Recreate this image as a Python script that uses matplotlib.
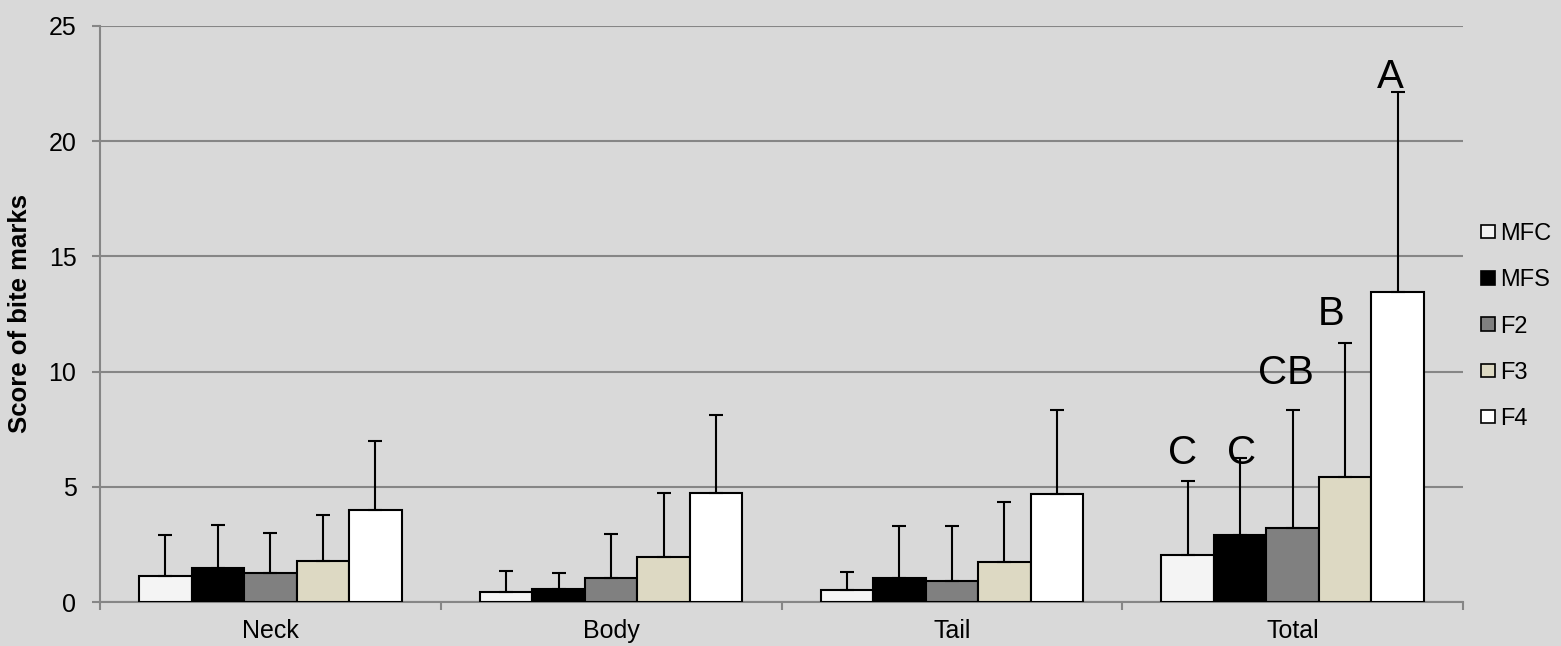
import numpy as np
import matplotlib.pyplot as plt
from matplotlib.patches import Patch

plt.rcParams['font.family'] = ['Liberation Sans', 'DejaVu Sans']

# data
categories = ['Neck', 'Body', 'Tail', 'Total']
groups = ['MFC', 'MFS', 'F2', 'F3', 'F4']
means = {
    'MFC': [1.12, 0.45, 0.50, 2.06],
    'MFS': [1.49, 0.55, 1.05, 2.92],
    'F2':  [1.26, 1.05, 0.92, 3.23],
    'F3':  [1.80, 1.97, 1.72, 5.41],
    'F4':  [4.01, 4.72, 4.68, 13.45],
}
upper = {  # top of error bar
    'MFC': [2.90, 1.35, 1.30, 5.25],
    'MFS': [3.33, 1.25, 3.28, 6.25],
    'F2':  [3.00, 2.93, 3.28, 8.35],
    'F3':  [3.78, 4.72, 4.33, 11.24],
    'F4':  [6.97, 8.12, 8.32, 22.12],
}
letters = ['C', 'C', 'CB', 'B', 'A']
letter_y = [6.0, 6.0, 9.46, 12.03, 22.3]

colors = ['#f4f4f4', '#000000', '#808080', '#ddd9c3', '#ffffff']
bg = '#d9d9d9'
grid_c = '#868686'

fig = plt.figure(figsize=(15.61, 6.46), dpi=100, facecolor=bg)
ax = fig.add_axes([0.0641, 0.0681, 0.8731, 0.8917], facecolor=bg)

x = np.arange(len(categories)) + 0.5
w = 0.154
for j, g in enumerate(groups):
    xs = x + (j - 2) * w
    m = np.array(means[g])
    err = np.array(upper[g]) - m
    ax.bar(xs, m, width=w, color=colors[j], edgecolor='black', linewidth=1.5, zorder=3)
    ax.errorbar(xs, m, yerr=[np.zeros_like(err), err], fmt='none', ecolor='black',
                elinewidth=1.5, capsize=5, capthick=1.5, zorder=4)

# significance letters above the Total group
offsets = [-0.015, 0.003, -0.02, -0.04, -0.02]
for j, (lab, ly) in enumerate(zip(letters, letter_y)):
    ax.text(x[3] + (j - 2) * w + offsets[j], ly, lab, ha='center', va='baseline',
            fontsize=29, color='black', zorder=5)

ax.set_xlim(0, 4)
ax.set_ylim(0, 25)
ax.set_yticks([0, 5, 10, 15, 20, 25])
ax.yaxis.grid(True, color=grid_c, linewidth=1.5, zorder=0)
ax.set_axisbelow(True)

ax.set_xticks(x)
ax.set_xticklabels(categories, fontsize=18)
ax.set_xticks(np.arange(5), minor=True)
ax.tick_params(axis='x', which='major', length=0, pad=12)
ax.tick_params(axis='x', which='minor', length=6, color=grid_c, width=1.5)
ax.tick_params(axis='y', length=6, color=grid_c, width=1.5, labelsize=18, pad=11)

for s in ['top', 'right']:
    ax.spines[s].set_visible(False)
for s in ['left', 'bottom']:
    ax.spines[s].set_color(grid_c)
    ax.spines[s].set_linewidth(1.5)

ax.set_ylabel('Score of bite marks', fontsize=18.5, fontweight='bold', labelpad=12)

handles = [Patch(facecolor=c, edgecolor='black', linewidth=1.2) for c in colors]
fig.legend(handles, groups, loc='upper left', bbox_to_anchor=(0.9487, 0.655),
           frameon=False, fontsize=17, handlelength=0.6, handleheight=0.5,
           handletextpad=0.2, labelspacing=1.03, borderaxespad=0, borderpad=0)

fig.savefig('out.png', dpi=100, facecolor=bg)
